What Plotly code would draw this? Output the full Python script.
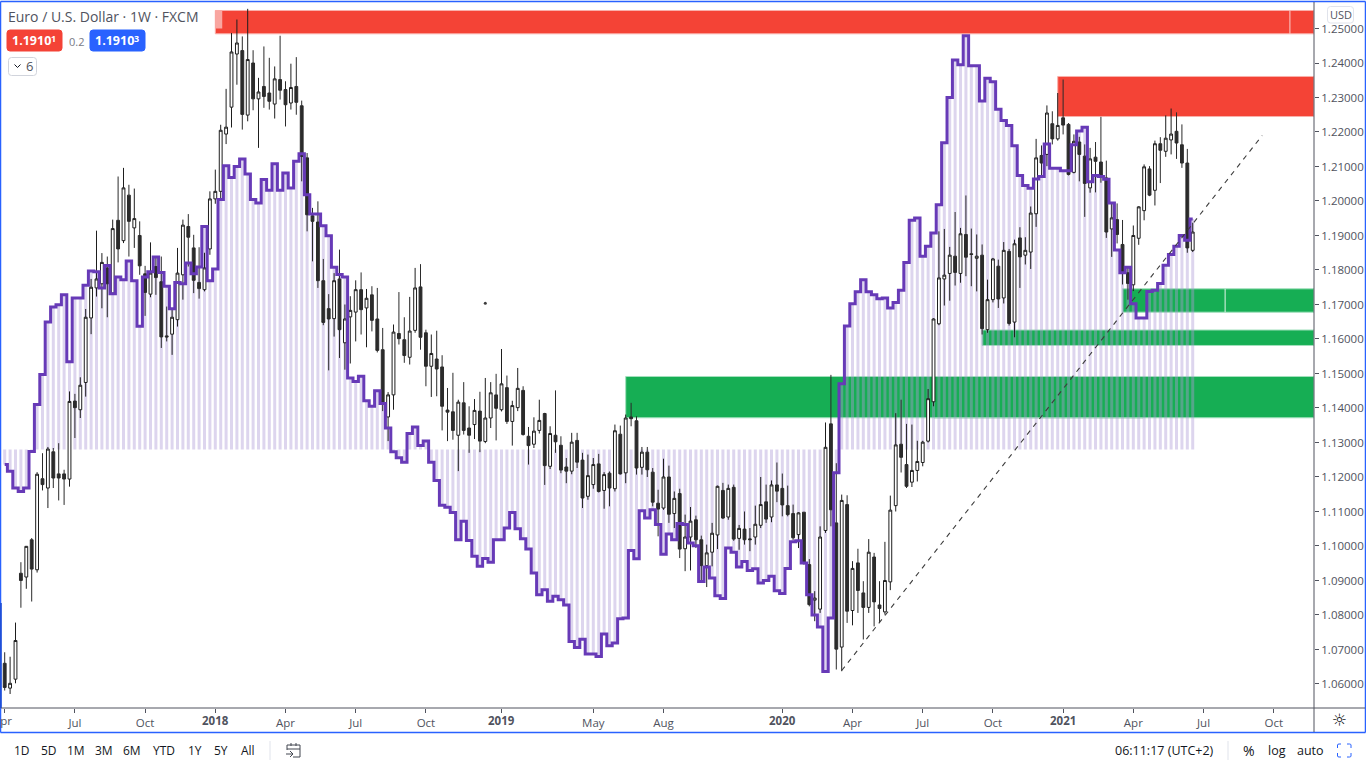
import pandas as pd
import plotly.graph_objects as go

W, H = 1366, 768
L, R, T, B = 1, 1314, 2, 708
FONT = "Open Sans"

weeks = pd.date_range("2017-04-03", periods=221, freq="7D")

opens = [
 1.0660,1.0588,1.0614,1.0921,1.0910,1.1018,1.0931,1.1195,1.1168,1.1273,
 1.1209,1.1209,1.1194,1.1420,1.1395,1.1474,1.1661,1.1748,1.1760,1.1806,
 1.1733,1.1944,1.1885,1.2017,1.1922,1.1900,1.1789,1.1730,1.1810,1.1766,
 1.1609,1.1614,1.1656,1.1786,1.1926,1.1864,1.1764,1.1743,1.1861,1.2006,
 1.2028,1.2194,1.2272,1.2426,1.2436,1.2249,1.2400,1.2296,1.2332,1.2313,
 1.2281,1.2352,1.2323,1.2284,1.2332,1.2276,1.2125,1.1957,1.1939,1.1769,
 1.1688,1.1659,1.1774,1.1589,1.1664,1.1678,1.1743,1.1690,1.1728,1.1658,
 1.1569,1.1374,1.1438,1.1616,1.1598,1.1547,1.1625,1.1751,1.1618,1.1521,
 1.1542,1.1519,1.1394,1.1389,1.1321,1.1415,1.1342,1.1352,1.1391,1.1303,
 1.1371,1.1438,1.1395,1.1459,1.1361,1.1401,1.1451,1.1318,1.1295,1.1335,
 1.1384,1.1231,1.1321,1.1292,1.1229,1.1217,1.1306,1.1249,1.1144,1.1178,
 1.1238,1.1161,1.1211,1.1166,1.1324,1.1212,1.1374,1.1363,1.1228,1.1272,
 1.1214,1.1124,1.1110,1.1200,1.1094,1.1152,1.0992,1.1026,1.1076,1.1018,
 1.0943,1.0982,1.1032,1.1161,1.1084,1.1170,1.1022,1.1049,1.1018,1.1026,
 1.1060,1.1128,1.1084,1.1177,1.1167,1.1117,1.1094,1.1033,1.1098,1.0946,
 1.0843,1.0817,1.1045,1.1354,1.1067,1.0707,1.1120,1.0813,1.0951,1.0864,
 1.0822,1.0968,1.0829,1.0809,1.0896,1.1117,1.1295,1.1236,1.1185,1.1219,
 1.1242,1.1304,1.1418,1.1644,1.1774,1.1790,1.1840,1.1790,1.1903,1.1847,
 1.1834,1.1843,1.1627,1.1714,1.1811,1.1719,1.1854,1.1649,1.1893,1.1843,
 1.1852,1.1963,1.2132,1.2135,1.2224,1.2180,1.2241,1.2222,1.2083,1.2171,
 1.2130,1.2038,1.2127,1.2113,1.2067,1.1919,1.1946,1.1874,1.1792,1.1757,
 1.1892,1.1972,1.2093,1.2031,1.2166,1.2144,1.2177,1.2202,1.2163,1.2110,1.1857]

highs = [
 1.0692,1.0679,1.0778,1.0953,1.1000,1.1023,1.1214,1.1269,1.1287,1.1284,
 1.1298,1.1221,1.1448,1.1441,1.1489,1.1687,1.1774,1.1914,1.1849,1.1839,
 1.1946,1.2071,1.2096,1.2047,1.2036,1.1941,1.1812,1.1880,1.1839,1.1839,
 1.1694,1.1689,1.1864,1.1946,1.1962,1.1902,1.1866,1.1850,1.2028,1.2091,
 1.2221,1.2325,1.2487,1.2526,1.2477,1.2557,1.2437,1.2357,1.2448,1.2415,
 1.2390,1.2479,1.2347,1.2398,1.2417,1.2291,1.2139,1.1980,1.1999,1.1832,
 1.1730,1.1791,1.1859,1.1700,1.1724,1.1770,1.1793,1.1745,1.1753,1.1748,
 1.1632,1.1446,1.1642,1.1736,1.1663,1.1722,1.1806,1.1817,1.1627,1.1613,
 1.1624,1.1553,1.1458,1.1502,1.1424,1.1475,1.1405,1.1426,1.1447,1.1487,
 1.1475,1.1499,1.1571,1.1494,1.1421,1.1516,1.1463,1.1345,1.1373,1.1424,
 1.1386,1.1347,1.1451,1.1318,1.1255,1.1328,1.1328,1.1270,1.1265,1.1255,
 1.1267,1.1214,1.1216,1.1352,1.1349,1.1381,1.1415,1.1376,1.1287,1.1287,
 1.1226,1.1163,1.1253,1.1233,1.1158,1.1166,1.1091,1.1113,1.1088,1.1030,
 1.1004,1.1067,1.1175,1.1183,1.1178,1.1178,1.1061,1.1100,1.1052,1.1117,
 1.1200,1.1178,1.1190,1.1242,1.1210,1.1175,1.1120,1.1098,1.1098,1.0962,
 1.0869,1.1057,1.1358,1.1496,1.1240,1.1149,1.1147,1.0956,1.0992,1.0898,
 1.1020,1.0980,1.0898,1.1012,1.1146,1.1385,1.1424,1.1354,1.1352,1.1305,
 1.1305,1.1455,1.1660,1.1912,1.1919,1.1867,1.1968,1.1922,1.2016,1.1920,
 1.1903,1.1874,1.1772,1.1835,1.1830,1.1881,1.1861,1.1888,1.1924,1.1895,
 1.1984,1.2180,1.2161,1.2277,1.2260,1.2313,1.2352,1.2226,1.2193,1.2186,
 1.2164,1.2154,1.2171,1.2244,1.2117,1.1993,1.1993,1.1945,1.1806,1.1929,
 1.1985,1.2106,1.2101,1.2175,1.2185,1.2248,1.2268,1.2257,1.2222,1.2151,1.1937]

lows = [
 1.0581,1.0571,1.0602,1.0821,1.0876,1.0839,1.0923,1.1161,1.1110,1.1168,
 1.1132,1.1119,1.1172,1.1313,1.1371,1.1433,1.1614,1.1723,1.1689,1.1663,
 1.1728,1.1822,1.1878,1.1839,1.1864,1.1786,1.1667,1.1721,1.1728,1.1574,
 1.1593,1.1554,1.1636,1.1714,1.1810,1.1733,1.1717,1.1738,1.1844,1.1992,
 1.2004,1.2165,1.2213,1.2337,1.2207,1.2231,1.2263,1.2154,1.2270,1.2265,
 1.2239,1.2294,1.2216,1.2265,1.2250,1.2057,1.1912,1.1825,1.1748,1.1640,
 1.1509,1.1607,1.1545,1.1511,1.1529,1.1593,1.1613,1.1576,1.1622,1.1561,
 1.1391,1.1304,1.1395,1.1584,1.1531,1.1526,1.1618,1.1569,1.1463,1.1432,
 1.1434,1.1335,1.1304,1.1308,1.1217,1.1323,1.1270,1.1310,1.1272,1.1298,
 1.1342,1.1306,1.1390,1.1354,1.1291,1.1391,1.1320,1.1236,1.1284,1.1326,
 1.1177,1.1223,1.1270,1.1211,1.1182,1.1208,1.1226,1.1110,1.1134,1.1166,
 1.1155,1.1108,1.1115,1.1158,1.1207,1.1182,1.1347,1.1207,1.1207,1.1200,
 1.1115,1.1028,1.1105,1.1067,1.1052,1.0965,1.0927,1.0929,1.0994,1.0898,
 1.0881,1.0941,1.0991,1.1078,1.1076,1.1015,1.0989,1.1004,1.0985,1.1004,
 1.1052,1.1067,1.1069,1.1127,1.1086,1.1086,1.1018,1.0994,1.0946,1.0825,
 1.0782,1.0806,1.1038,1.1057,1.0642,1.0637,1.0777,1.0770,1.0806,1.0729,
 1.0806,1.0767,1.0777,1.0801,1.0872,1.1100,1.1213,1.1168,1.1171,1.1187,
 1.1231,1.1300,1.1405,1.1640,1.1697,1.1711,1.1755,1.1763,1.1782,1.1753,
 1.1738,1.1613,1.1618,1.1706,1.1690,1.1703,1.1639,1.1605,1.1748,1.1816,
 1.1803,1.1925,1.2072,1.2101,1.2164,1.2175,1.2193,1.2074,1.2080,1.2057,
 1.1954,1.2024,1.2025,1.2053,1.1893,1.1838,1.1877,1.1758,1.1714,1.1739,
 1.1873,1.1944,1.2014,1.1987,1.2052,1.2128,1.2135,1.2122,1.2096,1.1850,1.1852]

closes = [
 1.0590,1.0602,1.0726,1.0900,1.0999,1.0933,1.1208,1.1178,1.1281,1.1197,
 1.1197,1.1194,1.1419,1.1401,1.1466,1.1663,1.1750,1.1774,1.1822,1.1760,
 1.1920,1.1861,1.2038,1.1941,1.1949,1.1812,1.1735,1.1791,1.1778,1.1606,
 1.1606,1.1663,1.1791,1.1930,1.1895,1.1770,1.1746,1.1806,1.2006,1.2028,
 1.2205,1.2214,1.2432,1.2458,1.2251,1.2410,1.2296,1.2316,1.2303,1.2289,
 1.2354,1.2321,1.2279,1.2329,1.2286,1.2129,1.1960,1.1941,1.1769,1.1648,
 1.1658,1.1769,1.1627,1.1658,1.1683,1.1743,1.1685,1.1718,1.1654,1.1567,
 1.1415,1.1438,1.1620,1.1601,1.1552,1.1623,1.1748,1.1605,1.1521,1.1558,
 1.1513,1.1405,1.1388,1.1335,1.1417,1.1335,1.1321,1.1393,1.1304,1.1371,
 1.1444,1.1399,1.1470,1.1361,1.1407,1.1457,1.1323,1.1291,1.1333,1.1364,
 1.1233,1.1326,1.1302,1.1220,1.1217,1.1301,1.1243,1.1139,1.1204,1.1236,
 1.1158,1.1207,1.1168,1.1334,1.1209,1.1371,1.1369,1.1226,1.1272,1.1221,
 1.1127,1.1107,1.1200,1.1092,1.1138,1.0991,1.1026,1.1072,1.1018,1.0943,
 1.0980,1.1037,1.1173,1.1081,1.1167,1.1020,1.1051,1.1018,1.1020,1.1063,
 1.1120,1.1078,1.1177,1.1159,1.1119,1.1091,1.1024,1.1096,1.0949,1.0830,
 1.0849,1.1026,1.1286,1.1105,1.0701,1.1132,1.0811,1.0935,1.0871,1.0822,
 1.0982,1.0838,1.0819,1.0900,1.1104,1.1293,1.1257,1.1173,1.1219,1.1245,
 1.1301,1.1427,1.1658,1.1777,1.1785,1.1843,1.1793,1.1905,1.1837,1.1845,
 1.1840,1.1630,1.1714,1.1832,1.1716,1.1857,1.1645,1.1876,1.1838,1.1857,
 1.1965,1.2125,1.2110,1.2255,1.2180,1.2219,1.2220,1.2077,1.2173,1.2135,
 1.2051,1.2122,1.2115,1.2074,1.1910,1.1951,1.1903,1.1794,1.1761,1.1900,
 1.1983,1.2099,1.2017,1.2166,1.2147,1.2182,1.2194,1.2168,1.2110,1.1864,1.1910]

indicator = [
 1.1236,1.1217,1.1168,1.1158,1.1168,1.1274,1.1410,1.1497,1.1649,1.1693,
 1.1699,1.1728,1.1534,1.1719,1.1719,1.1756,1.1797,1.1795,1.1748,1.1813,
 1.1731,1.1780,1.1772,1.1826,1.1769,1.1637,1.1780,1.1795,1.1838,1.1793,
 1.1753,1.1688,1.1764,1.1760,1.1820,1.1789,1.1809,1.1926,1.1769,1.1803,
 1.2004,1.2102,1.2068,1.2100,1.2122,1.2078,1.2004,1.1994,1.2062,1.2031,
 1.2108,1.2031,1.2081,1.2038,1.2115,1.2137,1.2018,1.1962,1.1962,1.1928,
 1.1899,1.1808,1.1787,1.1780,1.1487,1.1477,1.1492,1.1421,1.1405,1.1450,
 1.1413,1.1342,1.1273,1.1256,1.1243,1.1326,1.1345,1.1291,1.1304,1.1243,
 1.1190,1.1118,1.1112,1.1097,1.1018,1.1072,1.1016,1.0970,1.0941,1.0964,
 1.0953,1.1018,1.1018,1.1052,1.1097,1.1050,1.1021,1.0991,1.0922,1.0859,
 1.0873,1.0840,1.0854,1.0844,1.0829,1.0723,1.0706,1.0730,1.0687,1.0687,
 1.0680,1.0745,1.0711,1.0719,1.0789,1.0791,1.0987,1.0963,1.1102,1.1081,
 1.1105,1.1062,1.0976,1.1035,1.1018,1.1065,1.1062,1.1009,1.1001,1.0897,
 1.0939,1.0907,1.0856,1.0848,1.0994,1.0982,1.0939,1.0955,1.0929,1.0934,
 1.0893,1.0900,1.0912,1.0870,1.0862,1.0935,1.1012,1.1015,1.0951,1.0859,
 1.0800,1.0765,1.0636,1.0791,1.1212,1.1470,1.1638,1.1702,1.1737,1.1772,
 1.1737,1.1728,1.1717,1.1719,1.1690,1.1706,1.1741,1.1822,1.1944,1.1951,
 1.1840,1.1869,1.1907,1.1989,1.2169,1.2300,1.2409,1.2395,1.2479,1.2392,
 1.2392,1.2290,1.2356,1.2346,1.2266,1.2233,1.2219,1.2160,1.2074,1.2045,
 1.2037,1.2064,1.2071,1.2165,1.2095,1.2095,1.2088,1.2088,1.2163,1.2203,
 1.2214,1.2056,1.2074,1.2071,1.2063,1.1994,1.1858,1.1792,1.1808,1.1702,
 1.1661,1.1661,1.1738,1.1741,1.1761,1.1814,1.1845,1.1869,1.1900,1.1886,1.1948]

indicator_base = 1.12797

x_tick_dates = ["2017-04-03","2017-07-03","2017-10-02","2018-01-01","2018-04-02","2018-07-02",
                "2018-10-01","2019-01-07","2019-05-06","2019-08-05","2020-01-06","2020-04-06",
                "2020-07-06","2020-10-05","2021-01-04","2021-04-05","2021-07-05","2021-10-04"]
x_tick_labels = ["","Jul","Oct","","Apr","Jul","Oct","","May","Aug",
                 "","Apr","Jul","Oct","","Apr","Jul","Oct"]
year_labels = [("2018", 215.3), ("2019", 501.5), ("2020", 782.3), ("2021", 1063)]
y_tick_values = [1.06 + 0.01 * k for k in range(20)]
y_tick_labels = [f"{v:.5f}" for v in y_tick_values]

x_range = ["2017-03-29 05:00", "2021-11-25 05:00"]
y_range = [1.05304, 1.25768]

RED, GREEN = "#f44336", "#16ae54"
red_zones = [("2018-01-01", 1.25522, 1.24846), ("2020-12-28", 1.23609, 1.22449)]
green_zones = [("2019-06-17", 1.14913, 1.13716), ("2020-09-21", 1.16261, 1.15812), ("2021-03-22", 1.17455, 1.16777)]

trend_x = ["2020-03-23", "2021-09-19"]
trend_y = [1.0639, 1.21899]

def px(x):
    return (x - L) / (R - L)

def py(y):
    return (B - y) / (B - T)

shapes, annos = [], []

for x0, y1, y0 in red_zones:
    shapes.append(dict(type="rect", layer="below", xref="x", yref="y", x0=x0, x1=x_range[1], y0=y0, y1=y1,
                       fillcolor=RED, line=dict(color="#f9b0aa", width=1)))
for x0, y1, y0 in green_zones:
    shapes.append(dict(type="rect", layer="below", xref="x", yref="y", x0=x0, x1=x_range[1], y0=y0, y1=y1,
                       fillcolor=GREEN, line=dict(color="#a2e0bd", width=1)))
shapes.append(dict(type="rect", layer="below", xref="x", yref="y", x0="2018-01-01", x1="2018-01-10", y0=1.2500, y1=1.25522,
                   fillcolor="#f9a6a0", line=dict(width=0)))
shapes.append(dict(type="line", layer="below", xref="x", yref="y", x0="2021-10-25", x1="2021-10-25", y0=1.24846, y1=1.25522,
                   line=dict(color="#fbd0cc", width=1)))
shapes.append(dict(type="line", layer="below", xref="x", yref="y", x0="2021-08-02", x1="2021-08-02", y0=1.16777, y1=1.17455,
                   line=dict(color="#e6f6ec", width=1)))
shapes.append(dict(type="path", layer="below", xref="paper", yref="paper",
                   path=f"M {px(934)} {py(408)} L {px(934)} {py(418)} L {px(1143)} {py(418)}",
                   line=dict(color="#a9d8c1", width=1)))
shapes.append(dict(type="line", layer="above", xref="x", yref="y", x0=trend_x[0], x1=trend_x[1], y0=trend_y[0], y1=trend_y[1],
                   line=dict(color="#3c3c3c", width=1.1, dash="5px,5px")))

BLUE = "#2962ff"
def chrome_line(x0, y0, x1, y1, color, width=1):
    shapes.append(dict(type="line", layer="above", xref="paper", yref="paper",
                       x0=px(x0), y0=py(y0), x1=px(x1), y1=py(y1), line=dict(color=color, width=width)))

def round_box(x0, y0, x1, y1, r, fill, line=None):
    p = (f"M {px(x0+r)} {py(y0)} L {px(x1-r)} {py(y0)} Q {px(x1)} {py(y0)} {px(x1)} {py(y0+r)} "
         f"L {px(x1)} {py(y1-r)} Q {px(x1)} {py(y1)} {px(x1-r)} {py(y1)} L {px(x0+r)} {py(y1)} "
         f"Q {px(x0)} {py(y1)} {px(x0)} {py(y1-r)} L {px(x0)} {py(y0+r)} Q {px(x0)} {py(y0)} {px(x0+r)} {py(y0)} Z")
    shapes.append(dict(type="path", layer="above", xref="paper", yref="paper", path=p, fillcolor=fill,
                       line=dict(color=line or fill, width=1)))

def text(x, y, s, size=13, color="#50535e", anchor="left", family=FONT, weight="normal"):
    annos.append(dict(xref="paper", yref="paper", x=px(x), y=py(y), text=s, showarrow=False, xanchor=anchor,
                      yanchor="middle", align=anchor, borderpad=0, borderwidth=0,
                      font=dict(size=size, color=color, family=family, weight=weight)))

# outer frame and panel separators
chrome_line(0.5, 1.5, 1365.5, 1.5, BLUE, 1.5)
chrome_line(0.5, 732.5, 1365.5, 732.5, BLUE, 1.5)
chrome_line(0.5, 1.5, 0.5, 732.5, BLUE, 1.5)
chrome_line(1365.5, 1.5, 1365.5, 732.5, BLUE, 1.5)
chrome_line(0.8, 603, 0.8, 708, "#1f4fd8", 2)
chrome_line(1, 708, 1365, 708, "#50535e", 1)
chrome_line(1314, 2, 1314, 732, "#50535e", 1)

# header
text(8, 16, "Euro / U.S. Dollar · 1W · FXCM", 14, "#50535e")
round_box(7, 30, 62, 51, 3, RED)
text(31, 40.5, "1.1910", 12.5, "#ffffff", "center", weight="bold")
text(53, 38, "1", 9, "#ffffff", "center", weight="bold")
text(76, 41, "0.2", 11, "#787b86", "center")
round_box(90, 30, 145, 51, 3, BLUE)
text(114, 40.5, "1.1910", 12.5, "#ffffff", "center", weight="bold")
text(136, 38, "3", 9, "#ffffff", "center", weight="bold")
round_box(8.5, 57.5, 36.5, 75.5, 3, "#ffffff", "#d1d4dc")
shapes.append(dict(type="path", layer="above", xref="paper", yref="paper",
                   path=f"M {px(14.5)} {py(64.5)} L {px(17.5)} {py(67.5)} L {px(20.5)} {py(64.5)}",
                   line=dict(color="#131722", width=1)))
text(29, 66, "6", 13, "#50535e", "center")
round_box(1327.5, 6.5, 1353.5, 23, 3, "#ffffff", "#e0e3eb")
text(1340.5, 14.5, "USD", 11, "#50535e", "center")

text(-6.5, 720, "Apr", 11.5, "#50535e", "left")
for label, x in year_labels:
    text(x, 720, label, 11.5, "#50535e", "center", weight="bold")

# bottom toolbar
for x, s in zip([22, 49, 76, 104, 132, 164, 195, 221, 248],
                ["1D", "5D", "1M", "3M", "6M", "YTD", "1Y", "5Y", "All"]):
    text(x, 750.5, s, 12, "#131722", "center")
chrome_line(270, 741, 270, 760, "#e0e3eb")
shapes.append(dict(type="path", layer="above", xref="paper", yref="paper",
                   path=(f"M {px(287)} {py(750)} L {px(287)} {py(745)} L {px(300)} {py(745)} L {px(300)} {py(757)} L {px(293)} {py(757)} "
                         f"M {px(287)} {py(749)} L {px(300)} {py(749)} "
                         f"M {px(291)} {py(743)} L {px(291)} {py(746)} M {px(296)} {py(743)} L {px(296)} {py(746)} "
                         f"M {px(286)} {py(754)} L {px(293)} {py(754)} M {px(290)} {py(751)} L {px(293)} {py(754)} L {px(290)} {py(757)}"),
                   line=dict(color="#434651", width=1)))
text(1164.5, 750.5, "06:11:17 (UTC+2)", 12.5, "#131722", "center")
chrome_line(1228, 741, 1228, 760, "#e0e3eb")
text(1249, 750.5, "%", 14, "#131722", "center")
text(1277, 750.5, "log", 12.5, "#131722", "center")
text(1310, 750.5, "auto", 12.5, "#131722", "center")
shapes.append(dict(type="path", layer="above", xref="paper", yref="paper",
                   path=(f"M {px(1337.5)} {py(748)} L {px(1337.5)} {py(745)} Q {px(1337.5)} {py(744)} {px(1339)} {py(744)} L {px(1341)} {py(744)} "
                         f"M {px(1347)} {py(744)} L {px(1349.5)} {py(744)} Q {px(1351)} {py(744)} {px(1351)} {py(745)} L {px(1351)} {py(748)} "
                         f"M {px(1351)} {py(753)} L {px(1351)} {py(756)} Q {px(1351)} {py(757)} {px(1349.5)} {py(757)} L {px(1347)} {py(757)} "
                         f"M {px(1341)} {py(757)} L {px(1339)} {py(757)} Q {px(1337.5)} {py(757)} {px(1337.5)} {py(756)} L {px(1337.5)} {py(753)}"),
                   line=dict(color=BLUE, width=1)))
text(1339, 720, "☼", 17, "#131722", "center", "DejaVu Sans")

fig = go.Figure()
fig.add_trace(go.Bar(
    x=weeks, y=[v - indicator_base for v in indicator], base=indicator_base,
    width=3.0 / 5.4 * 7 * 86400000, marker=dict(color="rgba(174,155,214,0.42)", line=dict(width=0)),
    hoverinfo="skip", showlegend=False))
fig.add_trace(go.Candlestick(
    x=weeks, open=opens, high=highs, low=lows, close=closes,
    increasing=dict(fillcolor="#ffffff", line=dict(color="#1e1e1e", width=1)),
    decreasing=dict(fillcolor="#2b2b2b", line=dict(color="#2b2b2b", width=1)),
    whiskerwidth=0, hoverinfo="skip", showlegend=False))
fig.add_trace(go.Scatter(
    x=weeks, y=indicator, mode="lines", line=dict(color="#673ab7", width=3, shape="hvh"),
    hoverinfo="skip", showlegend=False))
fig.add_trace(go.Scatter(
    x=["2018-12-17"], y=[1.17038], mode="markers", marker=dict(color="#3c3c3c", size=3),
    hoverinfo="skip", showlegend=False))

fig.update_layout(
    width=W, height=H, autosize=False, showlegend=False,
    margin=dict(l=L, r=W - R, t=T, b=H - B, pad=0),
    paper_bgcolor="#ffffff", plot_bgcolor="#ffffff", boxgap=0.25,
    shapes=shapes, annotations=annos, hovermode=False,
    xaxis=dict(type="date", range=x_range, rangeslider=dict(visible=False), showgrid=False, zeroline=False,
               tickmode="array", tickvals=x_tick_dates, ticktext=x_tick_labels, ticks="outside", ticklen=4,
               tickcolor="#50535e", tickfont=dict(size=11.5, color="#50535e", family=FONT), showline=False, fixedrange=True),
    yaxis=dict(side="right", range=y_range, showgrid=False, zeroline=False,
               tickmode="array", tickvals=y_tick_values, ticktext=y_tick_labels, ticks="outside", ticklen=4,
               tickcolor="#50535e", tickfont=dict(size=11.5, color="#50535e", family=FONT), showline=False, fixedrange=True),
)

fig.write_html("out.html", config=dict(displayModeBar=False),
               post_script="document.body.style.margin='0';document.body.style.overflow='hidden';")
